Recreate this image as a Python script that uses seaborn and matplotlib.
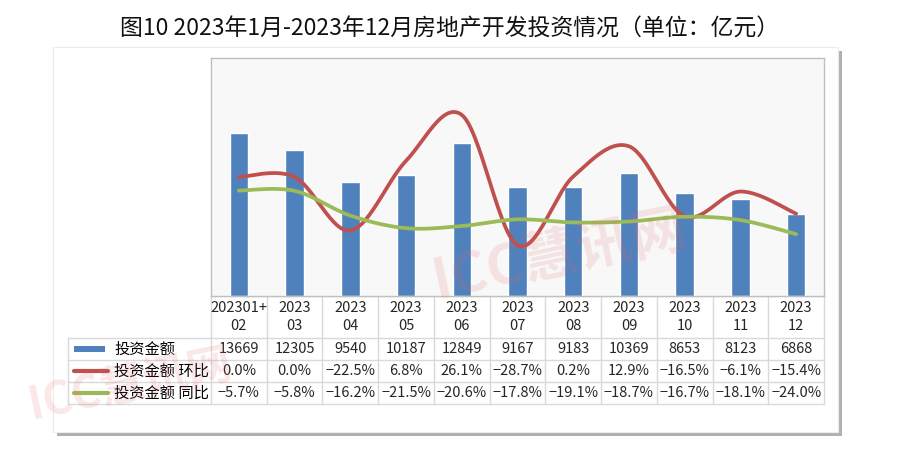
import numpy as np
import pandas as pd
import matplotlib
matplotlib.use("Agg")
import matplotlib.pyplot as plt
from matplotlib.patches import Rectangle
import seaborn as sns

# data
months = ["202301+\n02", "2023\n03", "2023\n04", "2023\n05", "2023\n06", "2023\n07",
          "2023\n08", "2023\n09", "2023\n10", "2023\n11", "2023\n12"]
invest = [13669, 12305, 9540, 10187, 12849, 9167, 9183, 10369, 8653, 8123, 6868]
mom = [0.0, 0.0, -22.5, 6.8, 26.1, -28.7, 0.2, 12.9, -16.5, -6.1, -15.4]
yoy = [-5.7, -5.8, -16.2, -21.5, -20.6, -17.8, -19.1, -18.7, -16.7, -18.1, -24.0]

BAR_C = "#4f81bd"
RED_C = "#c0504d"
GREEN_C = "#9bbb59"
GRID_C = "#d9d9d9"

sns.set_theme(style="white")
plt.rcParams["font.family"] = ["Noto Sans CJK SC", "DejaVu Sans"]


def smooth_curve(vals, n=30):
    # excel-like smoothed line (bezier through every point)
    x = np.arange(len(vals), dtype=float)
    pts = np.column_stack([x, np.asarray(vals, dtype=float)])
    ext = np.vstack([pts[0], pts, pts[-1]])
    t = np.linspace(0, 1, n)[:, None]
    out = []
    for i in range(len(vals) - 1):
        p0, p1 = ext[i + 1], ext[i + 2]
        c1 = p0 + (ext[i + 2] - ext[i]) / 6
        c2 = p1 - (ext[i + 3] - ext[i + 1]) / 6
        seg = (1 - t) ** 3 * p0 + 3 * (1 - t) ** 2 * t * c1 + 3 * (1 - t) * t ** 2 * c2 + t ** 3 * p1
        out.append(seg if i == 0 else seg[1:])
    return np.vstack(out)


W, H = 900, 468
fig = plt.figure(figsize=(W / 100, H / 100), dpi=100)
fig.patch.set_facecolor("white")

# background layer in pixel coordinates (frame, shadow, table grid)
bg = fig.add_axes([0, 0, 1, 1], zorder=0)
bg.set_xlim(0, W)
bg.set_ylim(H, 0)
bg.axis("off")
bg.add_patch(Rectangle((57, 51), 785, 385, facecolor="#b0b0b0", edgecolor="none"))
bg.add_patch(Rectangle((53, 47), 785, 385, facecolor="white", edgecolor="#ececec", lw=0.8))

PL, PR, PT, PB = 211, 824, 58, 296
col_w = (PR - PL) / len(months)
rows = [296, 338, 360, 382, 404]
for i in range(len(months) + 1):
    xx = PL + i * col_w
    bg.plot([xx, xx], [rows[0], rows[-1]], color=GRID_C, lw=1)
bg.plot([68, 68], [rows[1], rows[-1]], color=GRID_C, lw=1)
bg.plot([PL, PR], [rows[0], rows[0]], color=GRID_C, lw=1)
for yy in rows[1:]:
    bg.plot([68, PR], [yy, yy], color=GRID_C, lw=1)

# legend swatches + row names
bg.add_patch(Rectangle((74, 346), 31, 6, facecolor=BAR_C, edgecolor="none"))
bg.plot([74, 108], [371, 371], color=RED_C, lw=3, solid_capstyle="round")
bg.plot([74, 108], [393, 393], color=GREEN_C, lw=3, solid_capstyle="round")
row_names = ["投资金额", "投资金额 环比", "投资金额 同比"]
for name, yy in zip(row_names, [349, 371, 393]):
    bg.text(114, yy, name, fontsize=11, va="center", ha="left", color="black")

# title
fig.text(0.5, 1 - 29 / H, "图10 2023年1月-2023年12月房地产开发投资情况（单位：亿元）",
         ha="center", va="center", fontsize=16.5, fontweight="medium", color="#111111")

# main plot
ax = fig.add_axes([PL / W, 1 - PB / H, (PR - PL) / W, (PB - PT) / H], zorder=2)
ax.set_facecolor("#f8f8f8")
df = pd.DataFrame({"month": months, "invest": invest})
sns.barplot(data=df, x="month", y="invest", color=BAR_C, saturation=1,
            width=0.33, ax=ax)
ax.set_ylim(0, 20000)
ax.set_xlim(-0.5, len(months) - 0.5)
ax.set_xlabel("")
ax.set_ylabel("")
ax.set_xticks([])
ax.set_yticks([])
for s in ax.spines.values():
    s.set_color("#bfbfbf")
    s.set_linewidth(1)

ax2 = ax.twinx()
for vals, c in [(mom, RED_C), (yoy, GREEN_C)]:
    cur = smooth_curve(vals)
    ax2.plot(cur[:, 0], cur[:, 1], color=c, lw=2.7, solid_capstyle="round")
ax2.set_ylim(-50, 50)
ax2.set_yticks([])
ax2.set_xticks([])
for s in ax2.spines.values():
    s.set_visible(False)

# table text aligned with category positions
trans = ax.get_xaxis_transform()
span = PB - PT


def row_y(px):
    return (PB - px) / span


def pct(v):
    return f"{v:.1f}%".replace("-", "−")


for i, m in enumerate(months):
    ax.text(i, row_y(317), m, transform=trans, ha="center", va="center",
            fontsize=10.5, linespacing=1.3, clip_on=False)
    ax.text(i, row_y(349), f"{invest[i]}", transform=trans, ha="center",
            va="center", fontsize=10.5, clip_on=False)
    ax.text(i, row_y(371), pct(mom[i]), transform=trans, ha="center",
            va="center", fontsize=10.5, clip_on=False)
    ax.text(i, row_y(393), pct(yoy[i]), transform=trans, ha="center",
            va="center", fontsize=10.5, clip_on=False)

# faint watermarks
fig.text(560 / W, 1 - 255 / H, "ICC慧讯网", fontsize=40, fontweight="bold",
         color="#e06666", alpha=0.15, rotation=12, ha="center", va="center", zorder=5)
fig.text(130 / W, 1 - 385 / H, "ICC慧讯网", fontsize=32, fontweight="bold",
         color="#e06666", alpha=0.15, rotation=12, ha="center", va="center", zorder=5)

fig.savefig("out.png", dpi=100)
